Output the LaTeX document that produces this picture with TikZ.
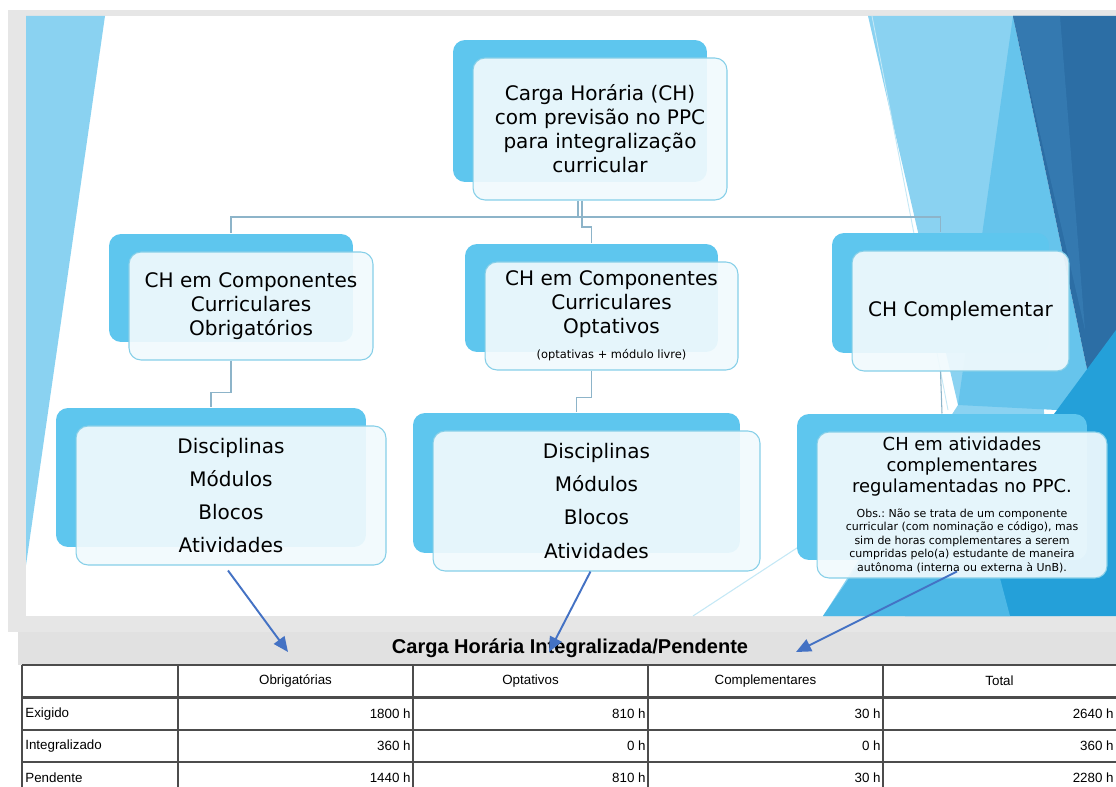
\documentclass[tikz,border=0pt]{standalone}
\usepackage{fontspec}
\setmainfont{DejaVu Sans}
\newfontfamily\tabfont{Liberation Sans}
\usepackage{xcolor}
\usetikzlibrary{arrows.meta, positioning}

\definecolor{chBack}{HTML}{5EC6EE}
\definecolor{chFront}{HTML}{F1FAFD}
\definecolor{chEdge}{HTML}{86CFE8}
\definecolor{chLink}{HTML}{8DB4C9}
\definecolor{slideGrey}{HTML}{E6E6E6}
\definecolor{bandGrey}{HTML}{E1E1E1}
\definecolor{arrowBlue}{HTML}{4472C4}
\definecolor{facetLight}{HTML}{8AD2F1}
\definecolor{facetMid}{HTML}{66C4EC}
\definecolor{facetDark}{HTML}{2C6EA5}
\definecolor{facetDeep}{HTML}{3479B0}
\definecolor{facetBright}{HTML}{24A0D9}
\definecolor{facetSea}{HTML}{4DB8E6}
\definecolor{facetPale}{HTML}{C4E8F6}

\tikzset{
	chbox/.style={rectangle, rounded corners=0.24cm, draw=chEdge, line width=0.6pt,
		fill=chFront, fill opacity=0.92, text opacity=1, align=flush center, inner sep=0pt,
		preaction={draw=none, fill=chBack, fill opacity=1, transform canvas={shift={(-20,-18)}}}},
	chlink/.style={draw=chLink, line width=0.6pt},
	seta/.style={draw=arrowBlue, line width=1.1pt, -{Triangle[length=0.3cm, width=0.26cm]}},
	cellline/.style={draw=black!70, line width=1.2pt},
	celltxt/.style={font=\tabfont\fontsize{7.6}{9}\selectfont, inner sep=0pt},
	bigtxt/.style={font=\fontsize{11.4}{13.7}\selectfont},
	listtxt/.style={font=\fontsize{11.4}{18.8}\selectfont},
}

\begin{document}
\frenchspacing
\begin{tikzpicture}[x=0.02cm, y=-0.02cm]
	\def\xMAX{1116};
	\def\yMAX{787};
	\useasboundingbox (0,0) rectangle (\xMAX,\yMAX);

	\begin{scope}
		\fill[white] (0,0) rectangle (\xMAX,\yMAX);
		\fill[slideGrey] (8,10) rectangle (\xMAX,632);
		\fill[white] (26,16) rectangle (\xMAX,616);
		\fill[facetLight] (26,16) -- (105,16) -- (26,565) -- cycle;
		\fill[facetLight] (868,16) -- (1013,16) -- (1060,616) -- (823,616) -- (958,405) -- cycle;
		\fill[facetMid] (1013,16) -- (1096,412) -- (958,405) -- cycle;
		\fill[facetDark] (1013,16) -- (\xMAX,16) -- (\xMAX,470) -- (1096,412) -- cycle;
		\fill[facetDeep] (1013,16) -- (1060,16) -- (1085,330) -- cycle;
		\fill[facetBright] (\xMAX,330) -- (\xMAX,616) -- (905,616) -- cycle;
		\fill[facetSea] (823,616) -- (958,420) -- (1010,616) -- cycle;
		\draw[facetPale, line width=0.5pt] (872,16) -- (948,410);
		\draw[facetPale, line width=0.6pt] (693,616) -- (832,525);
	\end{scope}

	\node[chbox, bigtxt, minimum width=5.08cm, minimum height=2.84cm] (total) at (600,129)
		{Carga Horária (CH)\\com previsão no PPC\\para integralização\\curricular};

	\node[chbox, bigtxt, minimum width=4.88cm, minimum height=2.16cm] (obr) at (251,306)
		{CH em Componentes\\Curriculares\\Obrigatórios};
	\node[chbox, minimum width=5.06cm, minimum height=2.16cm, text width=5cm] (optat) at (611.5,316)
		{{\fontsize{11.4}{13.7}\selectfont CH em Componentes\\Curriculares\\Optativos\par}\vspace{6.3pt}
		{\fontsize{6.5}{8}\selectfont (optativas + módulo livre)\par}};
	\node[chbox, bigtxt, minimum width=4.34cm, minimum height=2.4cm] (compl) at (960.5,311)
		{CH Complementar};

	\node[chbox, listtxt, minimum width=6.2cm, minimum height=2.78cm] (listObr) at (231,495.5)
		{Disciplinas\\Módulos\\Blocos\\Atividades};
	\node[chbox, listtxt, minimum width=6.54cm, minimum height=2.8cm] (listOpt) at (596.5,501)
		{Disciplinas\\Módulos\\Blocos\\Atividades};
	\node[chbox, minimum width=5.8cm, minimum height=2.92cm, text width=5.7cm] (ativCompl) at (962,505)
		{{\fontsize{10.2}{12}\selectfont CH em atividades\\complementares\\regulamentadas no PPC.\par}\vspace{6.2pt}
		{\fontsize{6.26}{7.7}\selectfont Obs.: Não se trata de um componente\\curricular (com nominação e código), mas\\sim de horas complementares a serem\\cumpridas pelo(a) estudante de maneira\\autônoma (interna ou externa à UnB).\par}};

	\begin{scope}
		\coordinate (bus) at (578,217);
		\coordinate (jog) at (582,227);
		\draw[chlink] (bus |- total.south) -- (bus);
		\draw[chlink] (bus) -| ([shift={(-20,-18)}]obr.north);
		\draw[chlink] (bus) -| ([shift={(-20,-18)}]compl.north);
		\draw[chlink] (jog |- total.south) -- (jog) -| ([shift={(-20,-18)}]optat.north);

		\draw[chlink] ([shift={(-20,0)}]obr.south) -- ++(0,32) -| ([shift={(-20,-18)}]listObr.north);
		\draw[chlink] ([shift={(-20,0)}]optat.south) -- ++(0,27) -| ([shift={(-20,-18)}]listOpt.north);
		\draw[chlink] ([shift={(-20,0)}]compl.south) -- ([shift={(-20,-18)}]ativCompl.north);
	\end{scope}

	\begin{scope}
		\fill[bandGrey] (18,632) rectangle (\xMAX,665);
		\node[font=\tabfont\bfseries\fontsize{11.4}{13}\selectfont] (tabTitle) at (570,648)
			{Carga Horária Integralizada/Pendente};

		\foreach \y in {665,697.5,730,762}
		{
			\draw[cellline] (22,\y) -- (\xMAX,\y);
		}

		\foreach \x in {22,178,413,648,883}
		{
			\draw[cellline] (\x,665) -- (\x,\yMAX);
		}

		\foreach \cx/\hd [count=\j] in {295.5/Obrigatórias, 530.5/Optativos, 765.5/Complementares, 999.5/Total}
		{
			\node[celltxt] (head\j) at (\cx,681) {\hd};
		}

		\foreach \ry/\lbl/\va/\vb/\vc/\vd [count=\i] in {714/Exigido/1800/810/30/2640, 746/Integralizado/360/0/0/360, 778/Pendente/1440/810/30/2280}
		{
			\node[celltxt, anchor=west] (row\i) at (25,\ry) {\lbl};
			\node[celltxt, anchor=east] (obr\i) at (411,\ry) {\va\ h};
			\node[celltxt, anchor=east] (opt\i) at (646,\ry) {\vb\ h};
			\node[celltxt, anchor=east] (com\i) at (881,\ry) {\vc\ h};
			\node[celltxt, anchor=east] (tot\i) at (1114,\ry) {\vd\ h};
		}
	\end{scope}

	\begin{scope}
		\coordinate (tipObr) at (288,652);
		\coordinate (tipOpt) at (549,652);
		\coordinate (tipCompl) at (796,652);
		\draw[seta] ([shift={(-3,5)}]listObr.south) -- (tipObr);
		\draw[seta] ([shift={(-6,0)}]listOpt.south) -- (tipOpt);
		\draw[seta] ([shift={(-5,-7)}]ativCompl.south) -- (tipCompl);
	\end{scope}
\end{tikzpicture}
\end{document}
